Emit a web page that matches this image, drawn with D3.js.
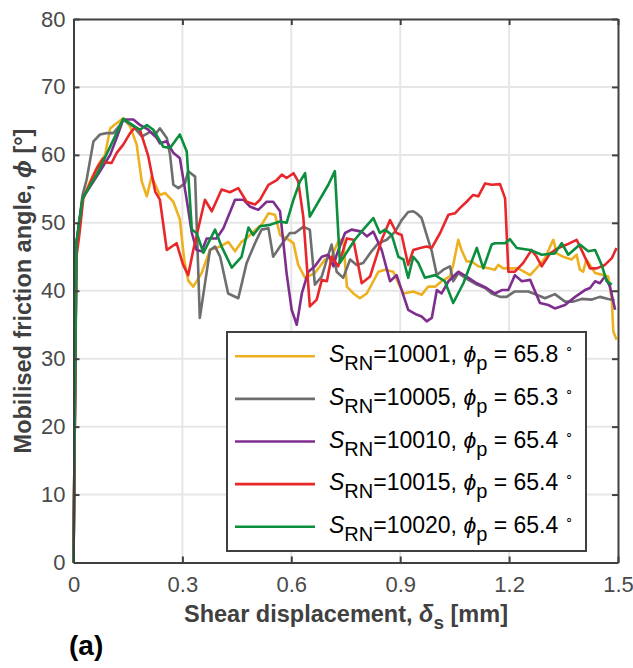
<!DOCTYPE html>
<html>
<head>
<meta charset="utf-8">
<script src="https://cdn.jsdelivr.net/npm/d3@7"></script>
<style>
  body { margin: 0; background: #fff; }
  text { font-family: "Liberation Sans", Arial, sans-serif; }
</style>
</head>
<body>
<svg id="chart" width="633" height="668"></svg>
<script>
// ticks
const xTicks = [0, 0.3, 0.6, 0.9, 1.2, 1.5];
const yTicks = [0, 10, 20, 30, 40, 50, 60, 70, 80];

// legend categories
const seeds = ['10001', '10005', '10010', '10015', '10020'];
const peaks = ['65.8', '65.3', '65.4', '65.4', '65.4'];

// [shear displacement mm, friction angle deg]
const s10001 = [[0,0],[0.008,47],[0.025,53.6],[0.05,56.6],[0.068,58.5],[0.087,60],[0.101,63.9],[0.11,64.3],[0.137,65.4],[0.156,64.2],[0.174,61.5],[0.188,56.1],[0.202,53.9],[0.215,56.8],[0.238,54.1],[0.252,54.4],[0.275,53.1],[0.293,50.5],[0.305,44.5],[0.316,41.5],[0.33,40.6],[0.353,42.6],[0.376,46],[0.404,46.5],[0.426,47.2],[0.445,45.8],[0.463,47.2],[0.477,47.7],[0.495,48.7],[0.518,49.7],[0.537,51.4],[0.555,51.2],[0.569,48.2],[0.587,47.7],[0.606,47],[0.619,43.8],[0.638,41.9],[0.665,42.6],[0.693,44.6],[0.711,45],[0.729,47.2],[0.743,47.7],[0.753,40.6],[0.771,39.6],[0.789,38.9],[0.808,39.6],[0.826,41.4],[0.84,42.8],[0.858,43.1],[0.881,42.8],[0.895,41.1],[0.909,39.6],[0.936,39.9],[0.959,39.4],[0.977,40.6],[0.996,40.6],[1.014,41.4],[1.037,42.1],[1.046,43.8],[1.06,47.5],[1.069,46],[1.083,44.3],[1.097,44.3],[1.115,43.6],[1.143,43.3],[1.161,43.1],[1.17,43.8],[1.184,43.3],[1.202,43.3],[1.225,43.3],[1.258,42.3],[1.28,43.6],[1.299,44.8],[1.317,47],[1.322,47.5],[1.331,45.5],[1.349,45],[1.372,44.6],[1.386,45.3],[1.395,43.1],[1.404,42.8],[1.413,44.6],[1.437,42.6],[1.46,42.3],[1.473,42.1],[1.483,38.7],[1.487,34],[1.496,32.8]];

const s10005 = [[0,0],[0.008,47],[0.025,54.1],[0.036,56.3],[0.055,62],[0.073,63],[0.091,63.2],[0.11,63.2],[0.128,64.4],[0.137,65.2],[0.165,64.2],[0.188,62.7],[0.211,63.4],[0.225,63],[0.238,63.9],[0.257,62.5],[0.266,60],[0.275,55.6],[0.289,55.1],[0.307,55.8],[0.316,57.6],[0.335,56.8],[0.348,36],[0.376,46],[0.39,46.5],[0.404,45],[0.426,39.6],[0.454,38.9],[0.477,44.1],[0.5,47],[0.518,49],[0.537,49.2],[0.55,45],[0.569,46.5],[0.596,48.5],[0.61,48.5],[0.633,49.4],[0.651,49],[0.665,40.9],[0.684,42.1],[0.698,44.6],[0.711,46.8],[0.725,42.8],[0.743,41.9],[0.762,44.6],[0.78,43.8],[0.798,44.1],[0.821,45.8],[0.84,47],[0.863,47.5],[0.886,48.7],[0.904,50.4],[0.922,51.6],[0.936,51.7],[0.945,51.4],[0.959,50.7],[0.973,48.2],[0.987,45.8],[1.001,42.3],[1.019,43.1],[1.037,43.6],[1.046,41.4],[1.06,42.6],[1.088,41.6],[1.111,40.9],[1.134,40.4],[1.152,39.6],[1.175,39.1],[1.193,39.1],[1.216,39.9],[1.253,39.9],[1.276,39.4],[1.299,38.9],[1.326,39.5],[1.354,38.4],[1.377,38.4],[1.4,38.8],[1.428,38.7],[1.45,39.1],[1.473,38.8],[1.49,38.6]];

const s10010 = [[0,0],[0.008,47],[0.025,53.6],[0.073,57.6],[0.101,60],[0.119,62.5],[0.137,65.2],[0.165,65.2],[0.183,64.4],[0.206,63.7],[0.229,62.5],[0.238,61.7],[0.257,62],[0.275,60.3],[0.293,59.5],[0.31,54],[0.326,48.5],[0.339,46],[0.353,45.8],[0.367,47.7],[0.394,47.7],[0.413,49.2],[0.445,53.4],[0.468,53.4],[0.486,52.4],[0.509,51.9],[0.532,53.1],[0.55,53.1],[0.569,51.7],[0.587,42.6],[0.601,37.2],[0.615,35],[0.629,39.6],[0.647,42.8],[0.665,43.6],[0.684,45],[0.702,45.3],[0.716,43.6],[0.725,45.3],[0.748,48.5],[0.766,49],[0.794,48.7],[0.808,48],[0.826,48.7],[0.849,46],[0.872,41.4],[0.89,42.3],[0.904,40.1],[0.922,37.2],[0.945,36.5],[0.959,36.2],[0.973,35.5],[0.987,36],[1.001,40.1],[1.014,39.6],[1.033,41.4],[1.06,42.8],[1.088,41.9],[1.111,41.1],[1.138,40.4],[1.161,39.6],[1.18,40.1],[1.198,40.1],[1.216,42.3],[1.235,41.4],[1.258,41.6],[1.285,38.2],[1.308,37.9],[1.326,37.4],[1.354,37.9],[1.382,39.1],[1.409,40.1],[1.423,40.4],[1.437,41.4],[1.45,41.1],[1.464,42.1],[1.478,40.6],[1.492,37.2]];

const s10015 = [[0,0],[0.008,45],[0.016,48.2],[0.027,53.6],[0.064,58],[0.082,59.5],[0.087,58.9],[0.105,58.8],[0.119,60.3],[0.137,61.5],[0.156,63.2],[0.169,64],[0.183,63.7],[0.206,59.8],[0.225,54.6],[0.238,53.4],[0.257,46],[0.284,47],[0.302,43.8],[0.316,42.3],[0.33,46],[0.362,53.4],[0.381,51.7],[0.408,54.9],[0.431,54.5],[0.454,55.1],[0.477,53.1],[0.5,52.7],[0.514,53.4],[0.537,55.6],[0.56,56.3],[0.574,57.1],[0.587,56.6],[0.606,57.3],[0.619,56.1],[0.633,50.9],[0.651,37.7],[0.67,38.7],[0.684,41.6],[0.698,41.4],[0.711,45],[0.729,43.6],[0.753,47.7],[0.771,47.5],[0.794,41.1],[0.817,42.1],[0.849,47.5],[0.872,50.4],[0.89,48.5],[0.904,48.2],[0.922,43.8],[0.936,46],[0.955,46.3],[0.973,46.5],[0.987,46.3],[1.01,48.5],[1.033,51.2],[1.051,51.4],[1.065,52.2],[1.083,53.1],[1.101,54.1],[1.115,53.9],[1.134,55.8],[1.152,55.6],[1.175,55.7],[1.189,53.6],[1.198,42.8],[1.216,42.8],[1.239,44.1],[1.262,46],[1.276,45],[1.29,43.6],[1.313,45.5],[1.336,46.3],[1.359,46.8],[1.386,47.5],[1.404,45.5],[1.423,43.3],[1.441,43.3],[1.464,43.8],[1.483,44.8],[1.496,46.3]];

const s10020 = [[0,0],[0.008,47],[0.025,53.6],[0.064,57.1],[0.11,62.2],[0.137,65.3],[0.183,63.7],[0.202,64.4],[0.22,63.7],[0.247,61.2],[0.266,61],[0.293,63],[0.312,60.5],[0.326,49],[0.339,48.5],[0.358,45.6],[0.39,49],[0.408,46.5],[0.436,43.4],[0.463,45],[0.482,49.3],[0.495,48.2],[0.514,49.5],[0.541,49.7],[0.569,50.2],[0.587,50],[0.606,53.4],[0.624,56.1],[0.638,57.3],[0.651,50.9],[0.702,55.6],[0.72,57.6],[0.734,44.1],[0.775,47.5],[0.798,49],[0.826,50.7],[0.844,48.5],[0.858,49],[0.877,48.2],[0.895,45],[0.909,44.6],[0.922,41.9],[0.936,45],[0.95,44.1],[0.968,41.9],[0.996,42.3],[1.023,41.4],[1.046,38.2],[1.074,41.1],[1.111,46.3],[1.129,43.3],[1.152,46.8],[1.161,47],[1.189,47],[1.202,47.6],[1.221,46.3],[1.258,46],[1.29,45.3],[1.326,45.5],[1.345,47],[1.363,45.3],[1.395,46.8],[1.418,45.8],[1.437,46],[1.455,43.8],[1.469,41.4],[1.483,40.9]];

const series = [s10001, s10005, s10010, s10015, s10020];

const svg = d3.select('#chart');
svg.append('rect').attr('width', 633).attr('height', 668).attr('fill', '#fff');

const margin = {top: 19, right: 15, bottom: 105.5, left: 73.5};
const width = 633, height = 668;
const axisColor = '#404040';

const x = d3.scaleLinear().domain([0, 1.5]).range([margin.left, width - margin.right]);
const y = d3.scaleLinear().domain([0, 80]).range([height - margin.bottom, margin.top]);
const color = d3.scaleOrdinal().domain(seeds)
  .range(['#edb120', '#6e6e6e', '#7e2f8e', '#e8272b', '#0b8f3f']);

// grid
const grid = svg.append('g').attr('stroke', '#e6e6e6').attr('stroke-width', 2);
grid.selectAll('line.gx').data(xTicks.slice(1, -1)).join('line')
  .attr('x1', d => x(d)).attr('x2', d => x(d))
  .attr('y1', y(0)).attr('y2', y(80));
grid.selectAll('line.gy').data(yTicks.slice(1, -1)).join('line')
  .attr('y1', d => y(d)).attr('y2', d => y(d))
  .attr('x1', x(0)).attr('x2', x(1.5));

// curves
const line = d3.line()
  .x(d => x(d[0]))
  .y(d => y(d[1]));

svg.append('g')
  .selectAll('path')
  .data(series)
  .join('path')
    .attr('fill', 'none')
    .attr('stroke', (d, i) => color(seeds[i]))
    .attr('stroke-width', 2.6)
    .attr('stroke-linejoin', 'round')
    .attr('d', line);

// axes
function styleAxis(g) {
  g.select('.domain').attr('stroke', axisColor).attr('stroke-width', 2);
  g.selectAll('.tick line').attr('stroke', axisColor).attr('stroke-width', 2);
  g.selectAll('.tick text')
    .attr('fill', '#4a4a4a')
    .style('font-size', '22px');
}

svg.append('g')
  .attr('transform', `translate(0, ${y(0)})`)
  .call(d3.axisBottom(x).tickValues(xTicks).tickFormat(d3.format('')).tickSizeInner(-6).tickSizeOuter(0).tickPadding(13.5))
  .call(styleAxis);

svg.append('g')
  .attr('transform', `translate(${x(0)}, 0)`)
  .call(d3.axisLeft(y).tickValues(yTicks).tickSizeInner(-6).tickSizeOuter(0).tickPadding(8))
  .call(styleAxis);

svg.append('g')
  .attr('transform', `translate(0, ${y(80)})`)
  .call(d3.axisTop(x).tickValues(xTicks).tickFormat('').tickSizeInner(-6).tickSizeOuter(0))
  .call(styleAxis);

svg.append('g')
  .attr('transform', `translate(${x(1.5)}, 0)`)
  .call(d3.axisRight(y).tickValues(yTicks).tickFormat('').tickSizeInner(-6).tickSizeOuter(0))
  .call(styleAxis);

// axis titles
const xl = svg.append('text')
  .attr('x', 346).attr('y', 622)
  .attr('text-anchor', 'middle')
  .attr('fill', axisColor)
  .style('font-size', '23.5px').style('font-weight', 'bold');
xl.append('tspan').text('Shear displacement, ');
xl.append('tspan').style('font-style', 'italic').text('δ');
xl.append('tspan').attr('dy', 7).style('font-size', '19px').text('s');
xl.append('tspan').attr('dy', -7).text(' [mm]');

const yl = svg.append('text')
  .attr('transform', 'translate(31, 291) rotate(-90)')
  .attr('text-anchor', 'middle')
  .attr('fill', axisColor)
  .style('font-size', '23.5px').style('font-weight', 'bold');
yl.append('tspan').text('Mobilised friction angle, ');
yl.append('tspan').style('font-style', 'italic').text('ϕ');
yl.append('tspan').text(' [°]');

svg.append('text')
  .attr('x', 69).attr('y', 655)
  .attr('fill', '#000')
  .style('font-size', '28px').style('font-weight', 'bold')
  .text('(a)');

// legend
const legend = svg.append('g');
legend.append('rect')
  .attr('x', 227).attr('y', 332).attr('width', 359).attr('height', 219)
  .attr('fill', '#fff').attr('stroke', axisColor).attr('stroke-width', 2);

const rowY = d3.scalePoint().domain(seeds).range([356.3, 526.7]);

const rows = legend.selectAll('g.row').data(seeds).join('g')
  .attr('transform', d => `translate(0, ${rowY(d)})`);

rows.append('line')
  .attr('x1', 235).attr('x2', 315)
  .attr('stroke', d => color(d)).attr('stroke-width', 2.6);

const lt = rows.append('text')
  .attr('x', 329).attr('y', 6)
  .attr('fill', '#000')
  .style('font-size', '23px');
lt.append('tspan').style('font-style', 'italic').text('S');
lt.append('tspan').attr('dy', 8).style('font-size', '20px').text('RN');
lt.append('tspan').attr('dy', -8).text(d => `=${d}, `);
lt.append('tspan').style('font-style', 'italic').text('ϕ');
lt.append('tspan').attr('dy', 8).style('font-size', '20px').text('p');
lt.append('tspan').attr('dy', -8).text((d, i) => ` = ${peaks[i]} `);
lt.append('tspan').attr('dy', -10).style('font-size', '13px').text('∘');
</script>
</body>
</html>
